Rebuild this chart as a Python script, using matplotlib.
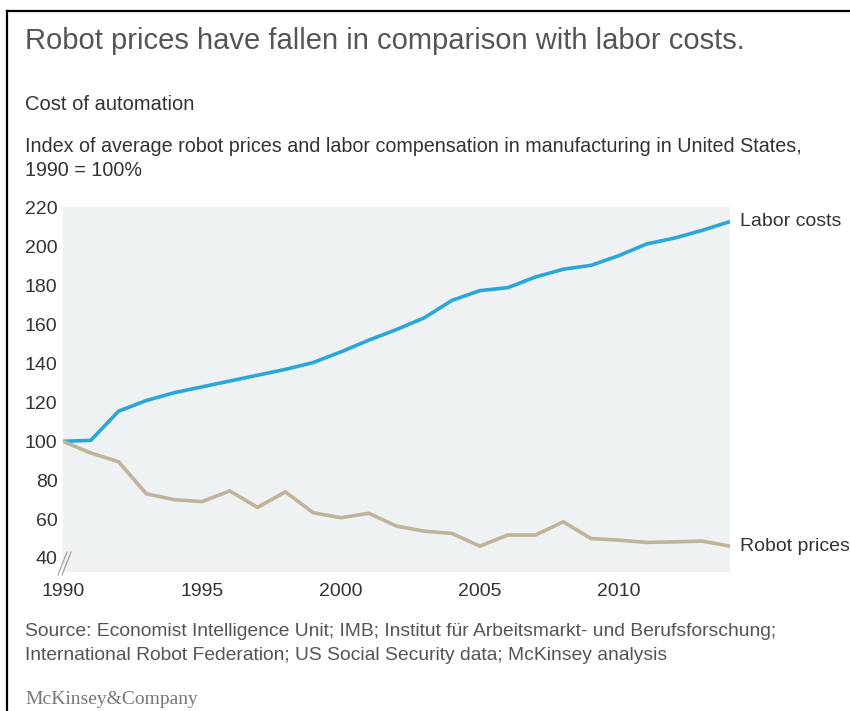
import numpy as np
from matplotlib import pyplot as plt
from matplotlib.lines import Line2D

years = np.arange(1990, 2015)
labor_costs = [100, 100.5, 115.5, 121, 125, 128, 131, 134, 137, 140.5,
               146, 152, 157.5, 163.5, 172.5, 177.5, 179, 184.5, 188.5, 190.5,
               195.5, 201.5, 204.5, 208.5, 213]
robot_prices = [100, 94, 89.5, 73, 70, 69, 74.5, 66, 74, 63.3,
                60.7, 63, 56.4, 53.8, 52.6, 46.1, 51.8, 51.8, 58.6, 50,
                49.2, 48, 48.3, 48.7, 46.1]
yticks = [40, 60, 80, 100, 120, 140, 160, 180, 200, 220]
xticks = [1990, 1995, 2000, 2005, 2010]

blue = '#2aa6d8'
tan = '#bfb399'
txt = '#333333'

plt.rcParams['font.family'] = ['Liberation Sans', 'DejaVu Sans']

fig = plt.figure(figsize=(8.5, 7.11), dpi=100)
W, H = 850, 711

def fx(px):
    return px / W

def fy(py):
    return 1 - py / H

ax = fig.add_axes([fx(63), fy(572), fx(730) - fx(63), fy(207) - fy(572)])
ax.set_facecolor('#eff2f3')
ax.plot(years, labor_costs, color=blue, lw=2.6, solid_capstyle='butt')
ax.plot(years, robot_prices, color=tan, lw=2.6, solid_capstyle='butt')
ax.set_xlim(1990, 2014)
ax.set_ylim(32.8, 220.5)
ax.set_yticks(yticks)
ax.set_xticks(xticks)
for s in ax.spines.values():
    s.set_visible(False)
ax.tick_params(length=0, labelsize=14, labelcolor=txt)
ax.tick_params(axis='y', pad=4)
ax.tick_params(axis='x', pad=8)

# series labels at line ends
ax.annotate('Labor costs', (years[-1], labor_costs[-1]), xytext=(7, 0),
            textcoords='offset points', va='center', ha='left',
            fontsize=14, color=txt, annotation_clip=False)
ax.annotate('Robot prices', (years[-1], robot_prices[-1]), xytext=(7, 0),
            textcoords='offset points', va='center', ha='left',
            fontsize=14, color=txt, annotation_clip=False)

# axis break mark
for dx in (0, 4):
    fig.add_artist(Line2D([fx(58 + dx), fx(67 + dx)], [fy(575), fy(552)],
                          color='#999999', lw=0.8))

# frame (top and left only)
fig.add_artist(Line2D([fx(7), 1], [fy(11), fy(11)], color='black', lw=1.6))
fig.add_artist(Line2D([fx(7), fx(7)], [fy(11), 0], color='black', lw=1.6))

fig.text(fx(25), fy(41), 'Robot prices have fallen in comparison with labor costs.',
         fontsize=21, color='#555555', va='center')
fig.text(fx(25), fy(105), 'Cost of automation', fontsize=14.5, color=txt, va='center')
fig.text(fx(25), fy(147), 'Index of average robot prices and labor compensation '
         'in manufacturing in United States,', fontsize=14.2, color=txt, va='center')
fig.text(fx(25), fy(170), '1990 = 100%', fontsize=14.2, color=txt, va='center')
fig.text(fx(25), fy(632), 'Source: Economist Intelligence Unit; IMB; Institut für '
         'Arbeitsmarkt- und Berufsforschung;', fontsize=13.9, color='#555555', va='center')
fig.text(fx(25), fy(655), 'International Robot Federation; US Social Security data; '
         'McKinsey analysis', fontsize=13.9, color='#555555', va='center')
fig.text(fx(25), fy(699), 'McKinsey&Company', fontsize=14, color='#777777',
         va='center', family='Liberation Serif')

fig.savefig('out.png', dpi=100)
